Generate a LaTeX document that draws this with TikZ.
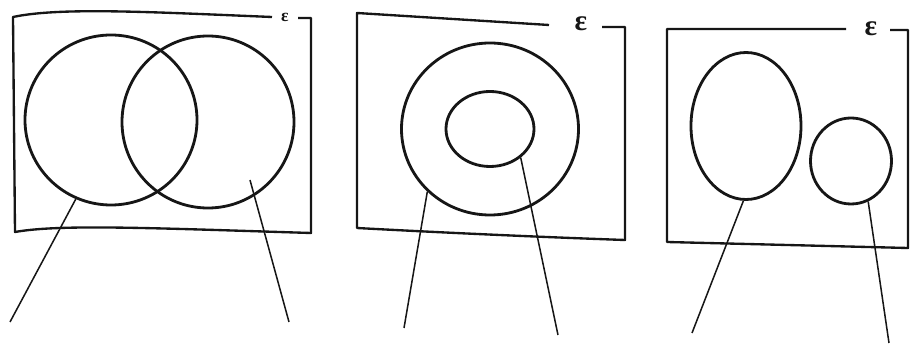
\documentclass[tikz,border=0pt]{standalone}
\usepackage{fontspec}
\newfontfamily\epsfont{Liberation Serif}
\usetikzlibrary{shapes.geometric,positioning}
\definecolor{inkblack}{HTML}{161616}

\tikzset{
  setring/.style={draw=inkblack, ellipse, line width=2.4pt, inner sep=0pt},
  framebox/.style={draw=inkblack, line width=2pt, line join=round},
  leader/.style={draw=inkblack, line width=1.3pt},
  epslabel/.style={text=inkblack, inner sep=0pt, font=\epsfont\bfseries\fontsize{25}{25}\selectfont}
}

\begin{document}
\begin{tikzpicture}[x=0.03cm, y=-0.03cm]
\useasboundingbox (0,0) rectangle (911,345);

% Panel 1: overlapping sets
\draw[framebox] (272,17) .. controls (150,12) and (60,7) .. (13,17) -- (15,232)
  .. controls (60,224) and (150,228) .. (311,233) -- (311,18) -- (298,18);
\node[epslabel, font=\epsfont\bfseries\fontsize{15}{15}\selectfont] (eps1) at (285,17) {ε};
\node[setring, minimum width=5.16cm, minimum height=5.1cm] (setA) at (111,120) {};
\node[setring, minimum width=5.16cm, minimum height=5.16cm] (setB) at (208,122) {};
\coordinate (inB) at (250,180);
\coordinate (endA) at (10,322);
\coordinate (endB) at (289,322);
\draw[leader] (setA.246) -- (endA);
\draw[leader] (inB) -- (endB);

% Panel 2: one set inside another
\draw[framebox] (549,25) -- (357,13) -- (357,228)
  .. controls (450,233) and (540,237) .. (625,240) -- (625,27) -- (602,27);
\node[epslabel] (eps2) at (581,24) {ε};
\node[setring, minimum width=5.31cm, minimum height=5.16cm] (outer) at (490,129) {};
\node[setring, minimum width=2.64cm, minimum height=2.25cm] (inner) at (490,129) {};
\coordinate (endOuter) at (404,328);
\coordinate (endInner) at (558,335);
\draw[leader] (outer.225) -- (endOuter);
\draw[leader] (inner.317) -- (endInner);

% Panel 3: disjoint sets
\draw[framebox] (846,29) -- (667,29) -- (667,242) -- (908,248) -- (908,30) -- (890,30);
\node[epslabel] (eps3) at (871,29) {ε};
\node[setring, minimum width=3.3cm, minimum height=4.41cm] (setC) at (746,126) {};
\node[setring, minimum width=2.43cm, minimum height=2.58cm] (setD) at (851,161) {};
\coordinate (endC) at (692,333);
\coordinate (endD) at (889,343);
\draw[leader] (setC.268) -- (endC);
\draw[leader] (setD.293) -- (endD);
\end{tikzpicture}
\end{document}
